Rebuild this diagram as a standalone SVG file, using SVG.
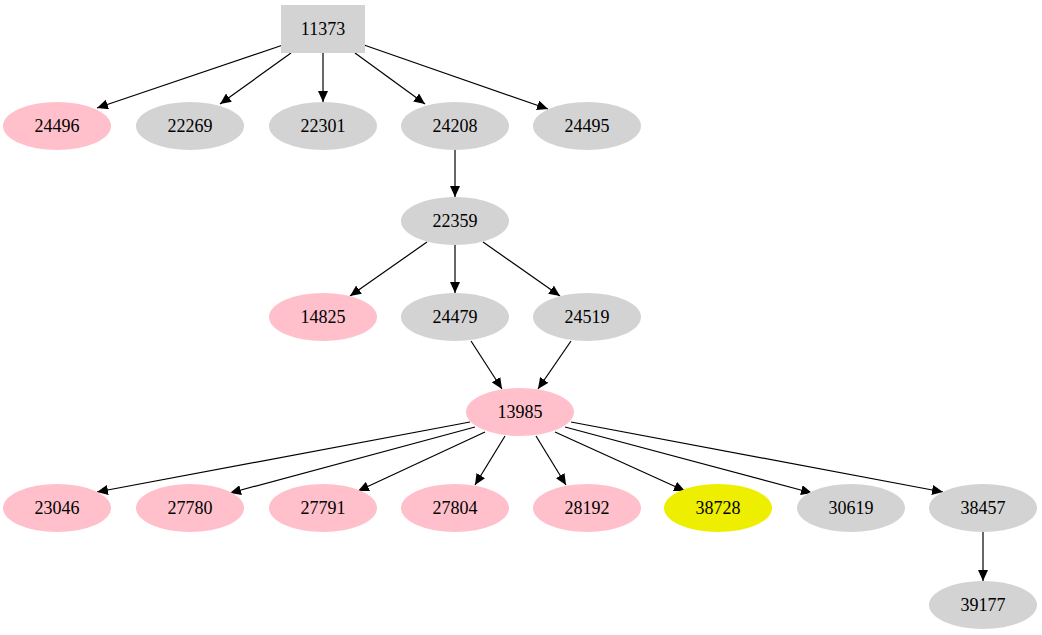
<svg xmlns="http://www.w3.org/2000/svg" width="1042" height="635" viewBox="0 0 1042 635">
<style>
text{font-family:"Liberation Serif","Times New Roman",serif;font-size:18px;text-anchor:middle;fill:#000}
.p{fill:#ffc0cb}.g{fill:#d3d3d3}.y{fill:#eeee00}
#edges line{stroke:#000;stroke-width:1.2;marker-end:url(#ah)}
</style>
<defs><marker id="ah" markerUnits="userSpaceOnUse" markerWidth="12" markerHeight="10" refX="11" refY="5" orient="auto"><path d="M0,0L11,5L0,10Z" fill="#000"/></marker></defs>
<rect width="1042" height="635" fill="#fff"/>
<g id="edges">
<line x1="283" y1="45" x2="97" y2="108"/>
<line x1="291" y1="53" x2="220" y2="104"/>
<line x1="323" y1="53" x2="323" y2="102"/>
<line x1="355" y1="53" x2="425" y2="104"/>
<line x1="364" y1="45" x2="548" y2="109"/>
<line x1="455" y1="150" x2="455" y2="197"/>
<line x1="427" y1="242" x2="350" y2="296"/>
<line x1="455" y1="245" x2="455" y2="293"/>
<line x1="483" y1="242" x2="560" y2="296"/>
<line x1="471" y1="341" x2="502" y2="389"/>
<line x1="571" y1="341" x2="538" y2="389"/>
<line x1="470" y1="422" x2="97" y2="492"/>
<line x1="475" y1="427" x2="230" y2="493"/>
<line x1="485" y1="432" x2="358" y2="491"/>
<line x1="505" y1="436" x2="475" y2="485"/>
<line x1="536" y1="436" x2="566" y2="485"/>
<line x1="555" y1="432" x2="685" y2="491"/>
<line x1="565" y1="427" x2="812" y2="493"/>
<line x1="571" y1="422" x2="943" y2="492"/>
<line x1="983" y1="532" x2="983" y2="581"/>
</g>
<g id="n11373"><rect class="g" x="281" y="5" width="84" height="48"/><text x="323" y="35">11373</text></g>
<g id="n24496"><ellipse class="p" cx="57" cy="126" rx="54" ry="24"/><text x="57" y="132">24496</text></g>
<g id="n22269"><ellipse class="g" cx="190" cy="126" rx="54" ry="24"/><text x="190" y="132">22269</text></g>
<g id="n22301"><ellipse class="g" cx="323" cy="126" rx="54" ry="24"/><text x="323" y="132">22301</text></g>
<g id="n24208"><ellipse class="g" cx="455" cy="126" rx="54" ry="24"/><text x="455" y="132">24208</text></g>
<g id="n24495"><ellipse class="g" cx="587" cy="126" rx="54" ry="24"/><text x="587" y="132">24495</text></g>
<g id="n22359"><ellipse class="g" cx="455" cy="221" rx="54" ry="24"/><text x="455" y="227">22359</text></g>
<g id="n14825"><ellipse class="p" cx="323" cy="317" rx="54" ry="24"/><text x="323" y="323">14825</text></g>
<g id="n24479"><ellipse class="g" cx="455" cy="317" rx="54" ry="24"/><text x="455" y="323">24479</text></g>
<g id="n24519"><ellipse class="g" cx="587" cy="317" rx="54" ry="24"/><text x="587" y="323">24519</text></g>
<g id="n13985"><ellipse class="p" cx="520" cy="412" rx="54" ry="24"/><text x="520" y="418">13985</text></g>
<g id="n23046"><ellipse class="p" cx="57" cy="508" rx="54" ry="24"/><text x="57" y="514">23046</text></g>
<g id="n27780"><ellipse class="p" cx="190" cy="508" rx="54" ry="24"/><text x="190" y="514">27780</text></g>
<g id="n27791"><ellipse class="p" cx="323" cy="508" rx="54" ry="24"/><text x="323" y="514">27791</text></g>
<g id="n27804"><ellipse class="p" cx="455" cy="508" rx="54" ry="24"/><text x="455" y="514">27804</text></g>
<g id="n28192"><ellipse class="p" cx="587" cy="508" rx="54" ry="24"/><text x="587" y="514">28192</text></g>
<g id="n38728"><ellipse class="y" cx="718" cy="508" rx="54" ry="24"/><text x="718" y="514">38728</text></g>
<g id="n30619"><ellipse class="g" cx="851" cy="508" rx="54" ry="24"/><text x="851" y="514">30619</text></g>
<g id="n38457"><ellipse class="g" cx="983" cy="508" rx="54" ry="24"/><text x="983" y="514">38457</text></g>
<g id="n39177"><ellipse class="g" cx="983" cy="605" rx="54" ry="24"/><text x="983" y="611">39177</text></g>
</svg>
